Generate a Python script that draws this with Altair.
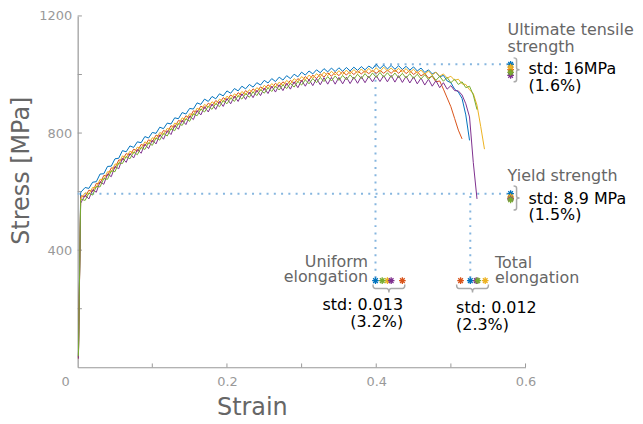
import altair as alt
import pandas as pd

# ---------------- data ----------------
strain = [0.001, 0.004,
          0.005, 0.010, 0.015, 0.020, 0.025, 0.030, 0.035, 0.040, 0.045, 0.050,
          0.055, 0.060, 0.065, 0.070, 0.075, 0.080, 0.085, 0.090, 0.095, 0.100,
          0.105, 0.110, 0.115, 0.120, 0.125, 0.130, 0.135, 0.140, 0.145, 0.150,
          0.155, 0.160, 0.165, 0.170, 0.175, 0.180, 0.185, 0.190, 0.195, 0.200,
          0.205, 0.210, 0.215, 0.220, 0.225, 0.230, 0.235, 0.240, 0.245, 0.250,
          0.255, 0.260, 0.265, 0.270, 0.275, 0.280, 0.285, 0.290, 0.295, 0.300,
          0.305, 0.310, 0.315, 0.320, 0.325, 0.330, 0.335, 0.340, 0.345, 0.350,
          0.355, 0.360, 0.365, 0.370, 0.375, 0.380, 0.385, 0.390, 0.395, 0.400,
          0.405, 0.410, 0.415, 0.420, 0.425, 0.430, 0.435, 0.440, 0.445, 0.450,
          0.455, 0.460, 0.465, 0.470, 0.475, 0.480, 0.485, 0.490, 0.495, 0.500,
          0.505, 0.510, 0.515, 0.520, 0.525, 0.530, 0.535, 0.540, 0.545]

stress_blue = [35, 596,
               600, 614, 611, 632, 634, 660, 661, 686, 687, 712,
               714, 740, 736, 756, 751, 770, 767, 788, 783, 802,
               799, 820, 815, 834, 831, 852, 849, 870, 865, 884,
               882, 903, 898, 916, 908, 925, 917, 934, 927, 944,
               936, 952, 944, 960, 951, 966, 957, 972, 964, 980,
               971, 986, 976, 991, 981, 996, 986, 1001, 992, 1008,
               998, 1012, 1002, 1016, 1006, 1020, 1009, 1022, 1010, 1023,
               1011, 1024, 1012, 1025, 1014, 1027, 1016, 1029, 1020, 1035,
               1020, 1032, 1019, 1031, 1018, 1030, 1017, 1028, 1015, 1026,
               1012, 1022, 1007, 1016, 1002, 1008, 992, 997, 978, 972,
               950, 940, 918, 862, 775]

stress_red = [30, 580,
              586, 582, 605, 600, 628, 628, 655, 654, 681, 680,
              708, 708, 730, 724, 745, 738, 761, 756, 777, 770,
              793, 788, 809, 802, 825, 820, 843, 838, 859, 852,
              876, 871, 892, 884, 902, 893, 911, 902, 921, 912,
              930, 920, 938, 928, 945, 934, 951, 940, 958, 948,
              965, 954, 970, 959, 975, 964, 980, 969, 986, 976,
              993, 981, 998, 986, 1002, 991, 1006, 994, 1008, 996,
              1010, 998, 1011, 1000, 1012, 1002, 1013, 1003, 1014, 1004,
              1014, 1004, 1015, 1004, 1016, 1004, 1017, 1003, 1014, 1000,
              1010, 995, 1004, 988, 994, 975, 978, 950, 920, 890,
              850, 810, 780]

stress_yellow = [32, 575,
                 578, 596, 591, 614, 614, 642, 641, 668, 667, 694,
                 694, 722, 716, 738, 731, 752, 747, 770, 763, 784,
                 779, 802, 795, 816, 811, 834, 829, 852, 845, 866,
                 862, 885, 878, 898, 888, 907, 897, 916, 907, 926,
                 916, 934, 924, 942, 931, 948, 937, 955, 945, 963,
                 952, 969, 957, 974, 962, 980, 968, 986, 975, 993,
                 982, 998, 987, 1003, 992, 1008, 996, 1011, 998, 1013,
                 1000, 1015, 1002, 1017, 1004, 1019, 1006, 1021, 1008, 1023,
                 1010, 1025, 1012, 1022, 1009, 1021, 1008, 1020, 1006, 1018,
                 1004, 1015, 1001, 1012, 998, 1008, 994, 1002, 988, 994,
                 980, 984, 968, 966, 948, 935, 895, 822, 745]

stress_purple = [30, 560,
                 565, 588, 575, 606, 598, 634, 625, 660, 651, 686,
                 678, 714, 700, 730, 715, 744, 731, 762, 747, 776,
                 763, 794, 779, 808, 795, 826, 813, 844, 829, 858,
                 846, 877, 862, 890, 872, 899, 881, 908, 891, 918,
                 900, 926, 908, 934, 915, 940, 921, 946, 928, 954,
                 935, 960, 940, 965, 945, 970, 950, 975, 955, 980,
                 960, 983, 962, 986, 965, 989, 967, 990, 967, 990,
                 968, 991, 969, 991, 970, 993, 972, 994, 975, 996,
                 976, 996, 975, 997, 974, 996, 973, 994, 971, 992,
                 968, 988, 964, 984, 960, 979, 955, 972, 950, 962,
                 945, 944, 930, 900, 855, 700, 575]

stress_green = [38, 570,
                574, 570, 595, 588, 618, 616, 645, 642, 671, 668,
                698, 696, 720, 712, 735, 726, 751, 744, 767, 758,
                783, 776, 799, 790, 815, 808, 833, 826, 849, 840,
                866, 859, 882, 872, 892, 881, 901, 890, 911, 900,
                920, 908, 928, 916, 935, 922, 941, 928, 948, 936,
                955, 942, 960, 947, 965, 952, 970, 957, 976, 964,
                982, 968, 986, 972, 990, 976, 993, 978, 995, 980,
                997, 982, 999, 984, 1001, 986, 1003, 988, 1005, 990,
                1007, 991, 1006, 990, 1005, 989, 1004, 988, 1003, 987,
                1001, 985, 999, 983, 997, 980, 994, 977, 990, 972,
                984, 966, 975, 955, 960, 930, 880]

specimens = ["Specimen 1", "Specimen 2", "Specimen 3", "Specimen 4", "Specimen 5"]
colors = ["#0072BD", "#D95319", "#EDB120", "#7E2F8E", "#77AC30"]
series = [stress_blue, stress_red, stress_yellow, stress_purple, stress_green]

uniform_elong = [0.399, 0.435, 0.415, 0.420, 0.408]
total_elong = [0.526, 0.513, 0.546, 0.534, 0.536]
uts = [1035, 1017, 1025, 997, 1007]
yield_str = [593, 578, 582, 575, 572]

y_ticks = [200, 400, 600, 800, 1000, 1200]
x_ticks = [0.1, 0.2, 0.3, 0.4, 0.5, 0.6]

# ---------------- tables ----------------
rows = []
for i, (name, s) in enumerate(zip(specimens, series)):
    for e, v in zip(strain, s):
        rows.append({"strain": e, "stress": v, "specimen": name, "ord": i})
curves = pd.DataFrame(rows)

props = pd.DataFrame({"specimen": specimens, "ue": uniform_elong, "te": total_elong,
                      "uts": uts, "ys": yield_str})

FONT = "DejaVu Sans"
color_scale = alt.Scale(domain=specimens, range=colors)

x_scale = alt.Scale(domain=[0, 0.6], nice=False, zero=False)
y_scale = alt.Scale(domain=[0, 1200], nice=False, zero=False)

X = lambda f, **k: alt.X(f, scale=x_scale, **k)
Y = lambda f, **k: alt.Y(f, scale=y_scale, **k)

base_curves = alt.Chart(curves).mark_line(strokeWidth=1, clip=False).encode(
    x=alt.X("strain:Q", scale=x_scale,
            axis=alt.Axis(values=[0.2, 0.4, 0.6], format=".1f", ticks=False, grid=False,
                          labelFontSize=13, labelColor="#999999", labelPadding=8,
                          labelFlush=False,
                          labelFont=FONT, domainColor="#999999", domainWidth=1.2,
                          title="Strain", titleFont=FONT, titleFontSize=24,
                          titleFontWeight="normal", titleColor="#666666",
                          titleX=175, titleY=40, titleBaseline="middle",
                          titleAlign="center")),
    y=alt.Y("stress:Q", scale=y_scale,
            axis=alt.Axis(values=[400, 800, 1200], format="d", ticks=False, grid=False,
                          labelFontSize=13, labelColor="#999999", labelPadding=6,
                          labelFlush=False,
                          labelFont=FONT, domainColor="#999999", domainWidth=1.2,
                          title="Stress [MPa]", titleFont=FONT, titleFontSize=24,
                          titleFontWeight="normal", titleColor="#666666",
                          titleX=-56, titleY=155, titleAngle=270,
                          titleBaseline="middle", titleAlign="center")),
    color=alt.Color("specimen:N", scale=color_scale, legend=None),
    order="ord:Q",
)

# inward tick marks
yt = pd.DataFrame({"v": y_ticks})
xt = pd.DataFrame({"v": x_ticks})
ytick_layer = alt.Chart(yt).mark_rule(color="#999999", strokeWidth=1).encode(
    y=Y("v:Q"), x=alt.datum(0.0), x2=alt.datum(0.0057))
xtick_layer = alt.Chart(xt).mark_rule(color="#999999", strokeWidth=1).encode(
    x=X("v:Q"), y=alt.datum(0), y2=alt.datum(13))

zero_label = alt.Chart(pd.DataFrame({"t": ["0"]})).mark_text(
    font=FONT, fontSize=13, color="#999999", dx=-12, dy=15, align="center",
    baseline="middle").encode(x=alt.datum(0.0), y=alt.datum(0), text="t:N")

# dotted guide lines
DOT = "#86b6df"
ue_blue = uniform_elong[0]
te_blue = total_elong[0]
marker_row = 296
guides = pd.DataFrame({
    "x": [ue_blue, ue_blue, 0.0, te_blue],
    "x2": [0.576, ue_blue, 0.576, te_blue],
    "y": [uts[0], 305, yield_str[0], 305],
    "y2": [uts[0], uts[0], yield_str[0], yield_str[0]],
})
guide_layer = alt.Chart(guides).mark_rule(color=DOT, strokeWidth=2, strokeDash=[2, 5.3]).encode(
    x=X("x:Q"), x2="x2:Q", y=Y("y:Q"), y2="y2:Q")

STAR = "M0,-1L0,1M-1,0L1,0M-0.7,-0.7L0.7,0.7M-0.7,0.7L0.7,-0.7"
mk = dict(shape=STAR, filled=False, size=45, strokeWidth=1.3, opacity=1)

ue_layer = alt.Chart(props).mark_point(**mk).encode(
    x=X("ue:Q"), y=alt.datum(marker_row),
    color=alt.Color("specimen:N", scale=color_scale, legend=None))
te_layer = alt.Chart(props).mark_point(**mk).encode(
    x=X("te:Q"), y=alt.datum(marker_row),
    color=alt.Color("specimen:N", scale=color_scale, legend=None))
uts_layer = alt.Chart(props).mark_point(**mk).encode(
    x=alt.datum(0.58), y=Y("uts:Q"),
    color=alt.Color("specimen:N", scale=color_scale, legend=None))
ys_layer = alt.Chart(props).mark_point(**mk).encode(
    x=alt.datum(0.58), y=Y("ys:Q"),
    color=alt.Color("specimen:N", scale=color_scale, legend=None))

# braces
VBRACE = "M-0.25,-1Q0,-1 0,-0.85L0,-0.15Q0,0 0.25,0Q0,0 0,0.15L0,0.85Q0,1 -0.25,1"
HBRACE = "M-1,-0.25Q-1,0 -0.85,0L-0.15,0Q0,0 0,0.25Q0,0 0.15,0L0.85,0Q1,0 1,-0.25"
vb = pd.DataFrame({"y": [1016, 578]})
hb = pd.DataFrame({"x": [0.417, 0.529]})
vbrace_layer = alt.Chart(vb).mark_point(shape=VBRACE, filled=False, size=576,
                                         color="#aaaaaa", strokeWidth=1.5, opacity=1).encode(
    x=alt.datum(0.588), y=Y("y:Q"))
hbrace_layer = alt.Chart(hb).mark_point(shape=HBRACE, filled=False, size=1024,
                                         color="#aaaaaa", strokeWidth=1.5, opacity=1).encode(
    x=X("x:Q"), y=alt.datum(269))

# annotations
gray_left = pd.DataFrame({
    "t": ["Ultimate tensile", "strength", "Yield strength", "Total", "elongation"],
    "x": [0.576, 0.576, 0.576, 0.559, 0.559],
    "y": [1152, 1095, 653, 357, 306],
})
gray_right = pd.DataFrame({
    "t": ["Uniform", "elongation"],
    "x": [0.389, 0.389],
    "y": [360, 309],
})
black_left = pd.DataFrame({
    "t": ["std: 16MPa", "(1.6%)", "std: 8.9 MPa", "(1.5%)", "std: 0.012", "(2.3%)"],
    "x": [0.604, 0.604, 0.604, 0.604, 0.507, 0.507],
    "y": [1020, 962, 574, 520, 204, 146],
})
black_right = pd.DataFrame({
    "t": ["std: 0.013", "(3.2%)"],
    "x": [0.436, 0.436],
    "y": [214, 156],
})

def text_layer(df, align, color):
    return alt.Chart(df).mark_text(font=FONT, fontSize=16, align=align, baseline="middle",
                                   color=color).encode(x=X("x:Q"), y=Y("y:Q"), text="t:N")

chart = alt.layer(
    guide_layer, ytick_layer, xtick_layer, base_curves, zero_label,
    ue_layer, te_layer, uts_layer, ys_layer, vbrace_layer, hbrace_layer,
    text_layer(gray_left, "left", "#666666"),
    text_layer(gray_right, "right", "#666666"),
    text_layer(black_left, "left", "#000000"),
    text_layer(black_right, "right", "#000000"),
).properties(
    width=450, height=353,
    autosize=alt.AutoSizeParams(type="none"),
    padding={"left": 70, "top": 7, "right": 110, "bottom": 54},
).configure(font=FONT).configure_view(stroke=None)

chart.save("out.html", embed_options={"renderer": "svg", "actions": False})
